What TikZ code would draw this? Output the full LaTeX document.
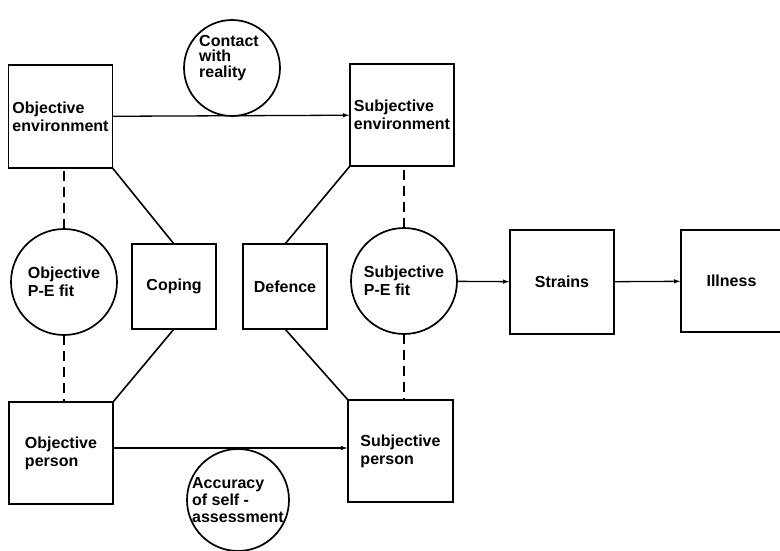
\documentclass[tikz,border=0pt]{standalone}
\usepackage{fontspec}
\setmainfont{Liberation Sans}
\usetikzlibrary{arrows.meta}
\begin{document}
\begin{tikzpicture}[x=1pt,y=-1pt,
  lbl/.style={font=\fontsize{16}{18}\selectfont\bfseries, align=left},
  box/.style={draw, line width=1.7pt, rectangle, inner sep=0pt, outer sep=0pt, minimum width=104pt, minimum height=103pt, lbl},
  smallbox/.style={box, minimum width=84pt, minimum height=85pt},
  ring/.style={draw, line width=1.7pt, circle, inner sep=0pt, outer sep=0pt, lbl},
  link/.style={line width=1.6pt},
  dashlink/.style={line width=1.6pt, dash pattern=on 10pt off 6pt},
  flow/.style={line width=1.3pt, -{Latex[length=7pt,width=4.5pt]}}
]
\useasboundingbox (0,0) rectangle (780,551);
% nodes
\node[box] (oe) at (60.5,116.5) {Objective\\environment};
\node[box, minimum height=102pt] (se) at (402,115) {Subjective\\environment};
\node[ring, minimum size=96pt] (ctc) at (232,68) {};
\node[lbl, font=\fontsize{16}{15.5}\selectfont\bfseries] (ctxt) at (229,58) {Contact\\with\\reality};
\node[ring, minimum size=106pt] (ope) at (64,282) {Objective\\P-E fit};
\node[smallbox] (cop) at (174,286.5) {Coping};
\node[smallbox] (def) at (285,286.5) {Defence};
\node[ring, minimum size=106pt] (spe) at (404,281) {Subjective\\P-E fit};
\node[box, minimum height=104pt] (str) at (562,282) {Strains};
\node[box, minimum width=101pt, minimum height=102pt] (ill) at (731.5,281) {Illness};
\node[box, minimum height=102pt] (op) at (61,453) {Objective\\person};
\node[box, minimum width=105pt, minimum height=102pt] (sp) at (400.5,451) {Subjective\\person};
\node[ring, minimum size=102pt, font=\fontsize{16}{17}\selectfont\bfseries] (acc) at (238,500) {Accuracy\\of self -\\assessment};
% connectors
\draw[flow] (oe) -- (se);
\draw[flow] ([yshift=5pt]op.east) -- ([yshift=5pt]op.east -| sp.west);
\draw[flow] (spe) -- (str);
\draw[flow] (str) -- (ill);
\draw[dashlink] (ope.north) -- (ope.north |- oe.south);
\draw[dashlink] (ope.south) -- (ope.south |- op.north);
\draw[dashlink] (spe.north) -- (spe.north |- se.south);
\draw[dashlink] (spe.south) -- (spe.south |- sp.north);
\draw[link] (oe.south east) -- (cop.north);
\draw[link] (cop.south) -- (op.north east);
\draw[link] (se.south west) -- (def.north);
\draw[link] (def.south) -- (sp.north west);
\end{tikzpicture}
\end{document}
